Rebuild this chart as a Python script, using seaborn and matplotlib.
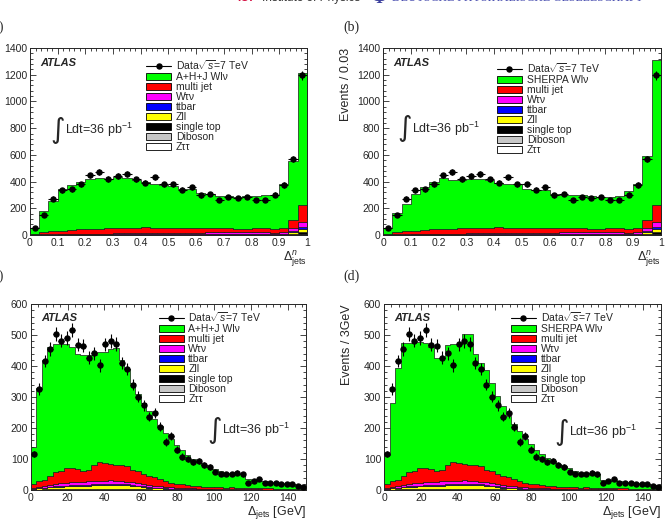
import numpy as np
import pandas as pd
import matplotlib
matplotlib.use("Agg")
import matplotlib.pyplot as plt
import seaborn as sns
from matplotlib.lines import Line2D
from matplotlib.patches import Patch
from matplotlib.ticker import MultipleLocator, FormatStrFormatter

# ---------- normalised Delta_jets : 30 bins in [0, 1] ----------
data_n = [55, 152, 273, 336, 341, 381, 446, 474, 421, 444, 456, 416, 391, 431, 381,
          381, 339, 356, 296, 308, 261, 283, 276, 283, 263, 263, 301, 374, 570, 1197]
total_ahj_n = [55, 180, 258, 343, 371, 396, 421, 429, 421, 434, 429, 409, 396, 381, 376,
               369, 346, 341, 318, 308, 293, 291, 286, 291, 293, 296, 303, 384, 552, 1217]
total_sherpa_n = [55, 165, 235, 308, 360, 398, 428, 415, 410, 418, 418, 410, 390, 383, 380,
                  348, 340, 340, 308, 300, 298, 298, 290, 283, 283, 290, 333, 385, 593, 1308]
multijet_n = [4, 14, 21, 25, 29, 35, 37, 37, 39, 40, 43, 44, 44, 43, 41,
              40, 37, 34, 37, 37, 34, 30, 28, 26, 31, 33, 30, 33, 60, 130]
wtaunu_n = [1.8, 2.7, 3.6, 3.5, 4.4, 5.3, 4.2, 5.1, 5, 6, 6, 6, 7, 7, 8,
            8, 9, 10, 12, 13, 14, 14, 14, 13, 13, 12.8, 11.5, 13, 17, 35]
ttbar_n = [0.2, 0.3, 0.4, 0.5, 0.6, 0.7, 0.8, 0.9, 1, 1, 1, 1, 1, 1, 1,
           1, 1, 1, 1, 1, 1, 1, 1, 1, 1, 1.2, 1.5, 2, 8, 15]
zll_n = [1, 1.5, 1.5, 2, 2, 2, 2.5, 2.5, 2.5, 2.5, 2.5, 2.5, 2.5, 2.5, 2.5,
         2.5, 2.5, 2.5, 2.5, 2.5, 2.5, 2.5, 2.5, 2.5, 2.5, 2.5, 2.5, 3.5, 14, 25]
singletop_n = [0.5, 0.8, 0.8, 1, 1, 1, 1.2, 1.2, 1.2, 1.2, 1.2, 1.2, 1.2, 1.2, 1.2,
               1.2, 1.2, 1.2, 1.2, 1.2, 1.2, 1.2, 1.2, 1.2, 1.2, 1.2, 1.2, 2, 7, 14]
diboson_n = [0.3, 0.4, 0.4, 0.5, 0.5, 0.5, 0.6, 0.6, 0.6, 0.6, 0.6, 0.6, 0.6, 0.6, 0.6,
             0.6, 0.6, 0.6, 0.6, 0.6, 0.6, 0.6, 0.6, 0.6, 0.6, 0.6, 0.6, 1, 2, 3]
ztautau_n = [0.2, 0.3, 0.3, 0.5, 0.5, 0.5, 0.7, 0.7, 0.7, 0.7, 0.7, 0.7, 0.7, 0.7, 0.7,
             0.7, 0.7, 0.7, 0.7, 0.7, 0.7, 0.7, 0.7, 0.7, 0.7, 0.7, 0.5, 0.5, 2, 3]

# ---------- Delta_jets [GeV] : 50 bins of 3 GeV ----------
data_abs = [116, 326, 416, 455, 504, 482, 490, 515, 469, 466,
            427, 442, 402, 470, 481, 471, 410, 390, 340, 301,
            273, 237, 249, 204, 156, 173, 130, 108, 99, 91,
            94, 80, 74, 58, 52, 52, 52, 56, 50, 24,
            30, 36, 24, 24, 21, 19, 19, 19, 12, 11]
total_ahj_abs = [140, 330, 420, 462, 470, 472, 470, 460, 440, 437,
                 437, 437, 445, 447, 455, 458, 420, 390, 345, 310,
                 280, 255, 228, 205, 185, 165, 145, 128, 113, 100,
                 90, 82, 75, 68, 60, 56, 54, 52, 50, 36,
                 33, 30, 28, 26, 24, 22, 20, 18, 16, 14]
total_sherpa_abs = [112, 280, 394, 476, 476, 478, 478, 476, 460, 425,
                    425, 468, 470, 472, 505, 505, 440, 410, 388, 345,
                    305, 272, 240, 212, 190, 165, 150, 130, 115, 102,
                    92, 84, 78, 72, 62, 56, 54, 54, 52, 32,
                    30, 32, 30, 27, 24, 22, 21, 20, 17, 15]
multijet_abs = [14, 20, 18, 28, 39, 39, 50, 48, 44, 37,
                36, 52, 61, 57, 51, 50, 51, 49, 40, 38,
                33, 31, 27, 24, 19, 16, 13, 12, 11, 9,
                8, 7, 7, 7, 6, 5, 6, 5, 5, 4,
                4, 3, 4, 4, 3, 3, 3, 2, 2, 2]
wtaunu_abs = [1.7, 4.5, 6.2, 7, 7.8, 8.6, 8.4, 9.2, 9, 8.8,
              10.6, 10.5, 11.4, 11.3, 12.2, 11.2, 11.3, 9.4, 8.5, 7.7,
              7, 6.2, 5.4, 4.6, 3.8, 4, 3.1, 3.2, 2.3, 2.4,
              1.5, 2, 1.1, 1.6, 1.7, 1.7, 0.9, 0.9, 1.1, 1.1,
              1.2, 1.2, 0.4, 0.4, 0.5, 0.5, 0.5, 0.6, 0.6, 0.6]
ttbar_abs = [0.3, 0.5, 0.8, 1, 1.2, 1.4, 1.6, 1.8, 2, 2.2,
             2.4, 2.5, 2.6, 2.7, 2.8, 2.8, 2.7, 2.6, 2.5, 2.3,
             2, 1.8, 1.6, 1.4, 1.2, 1, 0.9, 0.8, 0.7, 0.6,
             0.5, 0.5, 0.4, 0.4, 0.3, 0.3, 0.3, 0.3, 0.2, 0.2,
             0.2, 0.2, 0.1, 0.1, 0.1, 0.1, 0.1, 0.1, 0.1, 0.1]
zll_abs = [2, 3.5, 5, 7, 8, 9, 10, 11, 11, 12,
           12, 13, 13, 14, 14, 14, 13, 13, 12, 10,
           8, 6, 5, 4, 3, 2, 2, 1.5, 1.5, 1.5,
           1.5, 1, 1, 0.6, 0.6, 0.6, 0.5, 0.5, 0.4, 0.4,
           0.3, 0.3, 0.3, 0.3, 0.2, 0.2, 0.2, 0.1, 0.1, 0.1]
singletop_abs = [0.6, 0.9, 1.1, 1.2, 1.3, 1.3, 1.4, 1.4, 1.5, 1.5,
                 1.5, 1.5, 1.5, 1.5, 1.5, 1.5, 1.4, 1.4, 1.3, 1.2,
                 1.1, 1, 0.9, 0.8, 0.7, 0.6, 0.5, 0.5, 0.4, 0.4,
                 0.4, 0.3, 0.3, 0.3, 0.3, 0.2, 0.2, 0.2, 0.2, 0.2,
                 0.2, 0.2, 0.1, 0.1, 0.1, 0.1, 0.1, 0.1, 0.1, 0.1]
diboson_abs = [0.2, 0.3, 0.4, 0.4, 0.5, 0.5, 0.5, 0.5, 0.5, 0.5,
               0.5, 0.5, 0.5, 0.5, 0.5, 0.5, 0.5, 0.5, 0.5, 0.4,
               0.4, 0.4, 0.3, 0.3, 0.3, 0.3, 0.2, 0.2, 0.2, 0.2,
               0.2, 0.2, 0.2, 0.1, 0.1, 0.1, 0.1, 0.1, 0.1, 0.1,
               0.1, 0.1, 0.1, 0.1, 0.1, 0.1, 0.1, 0.1, 0.1, 0.1]
ztautau_abs = [0.2, 0.3, 0.4, 0.4, 0.4, 0.4, 0.4, 0.4, 0.4, 0.4,
               0.4, 0.4, 0.4, 0.4, 0.4, 0.3, 0.3, 0.3, 0.3, 0.3,
               0.2, 0.2, 0.2, 0.2, 0.2, 0.2, 0.1, 0.1, 0.1, 0.1,
               0.1, 0.1, 0.1, 0.1, 0.1, 0.1, 0.1, 0.1, 0.1, 0.1,
               0.1, 0.1, 0.1, 0.1, 0.1, 0.1, 0.1, 0.1, 0.1, 0.1]

components = ['W', 'multi jet', 'Wτν', 'ttbar', 'Zll', 'single top', 'Diboson', 'Zττ']
colors = ['#00ff00', '#ff0000', '#ff00ff', '#0000ff', '#ffff00', '#000000', '#c8c8c8', '#ffffff']

sns.set_style("ticks")
plt.rcParams['font.family'] = ['Liberation Sans', 'DejaVu Sans']
plt.rcParams['mathtext.fontset'] = 'custom'
plt.rcParams['mathtext.rm'] = 'Liberation Sans'
plt.rcParams['mathtext.it'] = 'Liberation Sans:italic'
plt.rcParams['mathtext.bf'] = 'Liberation Sans:bold'


def draw_panel(ax, edges, data, total, bkgs, wlabel, xlabel, ylabel,
               leg_pos, atlas_pos, int_pos, lumi_x, xmaj, xmin, ymaj, ymin, ytop):
    centers = (edges[:-1] + edges[1:]) / 2
    bkg_sum = np.sum([np.array(b, dtype=float) for b in bkgs], axis=0)
    wsig = np.clip(np.array(total, dtype=float) - bkg_sum, 0, None)
    frames = []
    for name, vals in zip(components, [wsig] + bkgs):
        frames.append(pd.DataFrame({'x': centers, 'w': vals, 'comp': name}))
    df = pd.concat(frames, ignore_index=True)

    sns.histplot(data=df, x='x', weights='w', hue='comp', hue_order=components,
                 bins=list(edges), multiple='stack', element='step', fill=True,
                 palette=dict(zip(components, colors)), alpha=1,
                 edgecolor='#1a1a1a', linewidth=0.5, legend=False, ax=ax)

    d = np.array(data, dtype=float)
    ax.errorbar(centers, d, yerr=np.sqrt(d), xerr=(edges[1] - edges[0]) / 2,
                fmt='o', color='black', ms=3.6, elinewidth=0.8, capsize=0, zorder=5)

    ax.set_xlim(edges[0], edges[-1])
    ax.set_ylim(0, ytop)
    ax.xaxis.set_major_locator(MultipleLocator(xmaj))
    ax.xaxis.set_minor_locator(MultipleLocator(xmin))
    ax.yaxis.set_major_locator(MultipleLocator(ymaj))
    ax.yaxis.set_minor_locator(MultipleLocator(ymin))
    ax.xaxis.set_major_formatter(FormatStrFormatter('%g'))
    ax.yaxis.set_major_formatter(FormatStrFormatter('%g'))
    ax.tick_params(which='both', direction='in', top=True, right=True,
                   labelsize=7.5, pad=2, width=0.6)
    ax.tick_params(which='major', length=4)
    ax.tick_params(which='minor', length=2)
    for s in ax.spines.values():
        s.set_linewidth(0.7)

    ax.set_xlabel(xlabel, loc='right', fontsize=9, labelpad=1)
    ax.set_ylabel(ylabel, loc='top', fontsize=9)
    ax.yaxis.set_label_coords(-0.112, 1.0)

    handles = [Line2D([], [], color='black', marker='o', ms=3.6, lw=0.8)]
    handles += [Patch(facecolor=c, edgecolor='black', lw=0.6) for c in colors]
    labels = [r'Data$\sqrt{s}$=7 TeV', wlabel, 'multi jet', 'Wτν', 'ttbar', 'Zll',
              'single top', 'Diboson', 'Zττ']
    ax.legend(handles, labels, loc='upper left', bbox_to_anchor=leg_pos,
              frameon=False, fontsize=7.5, handlelength=2.4, handleheight=0.7,
              labelspacing=0.0, handletextpad=0.45, borderpad=0, borderaxespad=0)

    ax.text(atlas_pos[0], atlas_pos[1], 'ATLAS', transform=ax.transAxes,
            fontsize=8, fontweight='bold', fontstyle='italic', va='center')
    ax.text(int_pos[0], int_pos[1], '∫', transform=ax.transAxes,
            fontsize=20, va='center', ha='left', family='DejaVu Sans')
    ax.text(lumi_x, int_pos[1], r'Ldt=36 pb$^{-1}$', transform=ax.transAxes,
            fontsize=9, va='center', ha='left')


fig = plt.figure(figsize=(6.69, 5.25), dpi=100)
ax_a = fig.add_axes([0.0448, 0.5524, 0.414, 0.356])
ax_b = fig.add_axes([0.5725, 0.5524, 0.4155, 0.356])
ax_c = fig.add_axes([0.0463, 0.0667, 0.411, 0.354])
ax_d = fig.add_axes([0.574, 0.0667, 0.414, 0.354])

edges_n = np.linspace(0, 1, 31)
edges_abs = np.linspace(0, 150, 51)
bkg_n = [multijet_n, wtaunu_n, ttbar_n, zll_n, singletop_n, diboson_n, ztautau_n]
bkg_abs = [multijet_abs, wtaunu_abs, ttbar_abs, zll_abs, singletop_abs, diboson_abs, ztautau_abs]
xl_n = r'$\Delta^{n}_{\rm jets}$'
xl_abs = r'$\Delta_{\rm jets}$ [GeV]'

draw_panel(ax_a, edges_n, data_n, total_ahj_n, bkg_n, 'A+H+J Wlν', xl_n, 'Events / 0.03',
           (0.42, 0.945), (0.036, 0.92), (0.075, 0.56), 0.127, 0.1, 0.02, 200, 40, 1400)
draw_panel(ax_b, edges_n, data_n, total_sherpa_n, bkg_n, 'SHERPA Wlν', xl_n, 'Events / 0.03',
           (0.41, 0.93), (0.036, 0.92), (0.05, 0.57), 0.106, 0.1, 0.02, 200, 40, 1400)
draw_panel(ax_c, edges_abs, data_abs, total_ahj_abs, bkg_abs, 'A+H+J Wlν', xl_abs, 'Events / 3GeV',
           (0.464, 0.966), (0.036, 0.927), (0.643, 0.323), 0.696, 20, 4, 100, 20, 600)
draw_panel(ax_d, edges_abs, data_abs, total_sherpa_abs, bkg_abs, 'SHERPA Wlν', xl_abs, 'Events / 3GeV',
           (0.458, 0.966), (0.036, 0.927), (0.616, 0.313), 0.669, 20, 4, 100, 20, 600)

# panel letters (left ones are cut by the page edge)
fig.text(4 / 669, 1 - 27 / 525, '(a)', ha='right', va='center', fontsize=10, family='Liberation Serif')
fig.text(343 / 669, 1 - 27 / 525, '(b)', ha='left', va='center', fontsize=10, family='Liberation Serif')
fig.text(4 / 669, 1 - 276 / 525, '(c)', ha='right', va='center', fontsize=10, family='Liberation Serif')
fig.text(343 / 669, 1 - 276 / 525, '(d)', ha='left', va='center', fontsize=10, family='Liberation Serif')

# journal header, cut at the top edge
fig.text(237 / 669, 1.003, 'IOP', ha='left', va='center', fontsize=8.5,
         fontweight='bold', color='#d41143')
fig.text(262 / 669, 1.003, 'Institute of Physics', ha='left', va='center', fontsize=8.5,
         color='#333333')
fig.text(371 / 669, 1.003, 'Φ', ha='left', va='center', fontsize=13, fontweight='bold',
         color='#3b3f9c', family='Liberation Serif')
fig.text(392 / 669, 1.003, 'DEUTSCHE PHYSIKALISCHE GESELLSCHAFT', ha='left', va='center',
         fontsize=8.6, color='#4a4fb0', family='Liberation Serif')

fig.savefig('out.png', dpi=100)
